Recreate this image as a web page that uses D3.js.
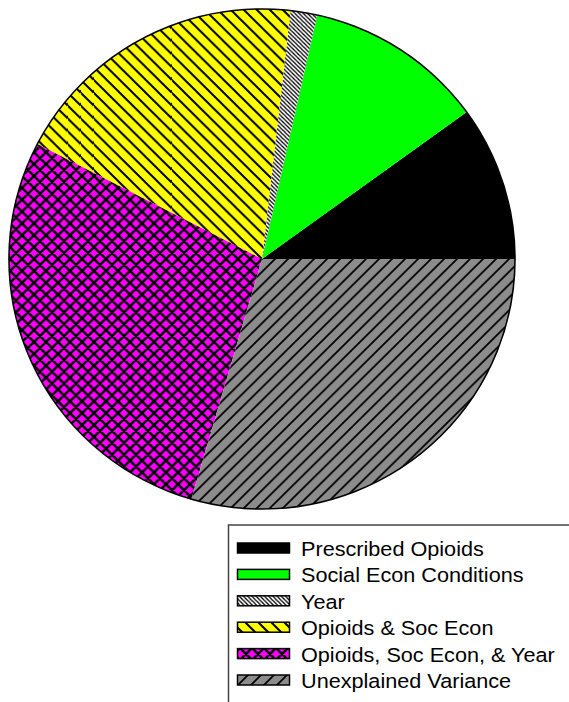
<!DOCTYPE html>
<html>
<head>
<meta charset="utf-8">
<script src="https://cdn.jsdelivr.net/npm/d3@7"></script>
<style>
  html, body { margin: 0; padding: 0; background: #fff; }
  svg { display: block; }
  text { font-family: "Liberation Sans", Arial, sans-serif; }
</style>
</head>
<body>
<svg id="chart" width="569" height="702"></svg>
<script>
// Share of variance explained, in percent
const categories = [
  "Prescribed Opioids",
  "Social Econ Conditions",
  "Year",
  "Opioids & Soc Econ",
  "Opioids, Soc Econ, & Year",
  "Unexplained Variance"
];
const shares = [10.0, 11.5, 1.7, 19.2, 28.1, 29.5];
const fills = ["#000000", "#00ff00", "#ffffff", "#ffff00", "#ff00ff", "#8c8c8c"];
const hatches = ["none", "none", "back-dense", "back", "cross", "forward"];

const svg = d3.select("#chart");
const defs = svg.append("defs");

// Hatch patterns drawn over each slice's base colour
function makePattern(id, bg, kind) {
  const specs = {
    "back-dense": { p: 4.2, w: 1.3 },
    "back": { p: 13, w: 2 },
    "forward": { p: 13, w: 1.8 },
    "cross": { p: 12, w: 2.5 }
  };
  const s = specs[kind];
  const pat = defs.append("pattern")
    .attr("id", id)
    .attr("patternUnits", "userSpaceOnUse")
    .attr("width", s.p).attr("height", s.p);
  pat.append("rect").attr("width", s.p).attr("height", s.p).attr("fill", bg);
  const p = s.p;
  const back = `M${-p},0 L${2 * p},${3 * p} M${-p},${-p} L${2 * p},${2 * p} M0,${-p} L${3 * p},${2 * p}`;
  const fwd = `M${-p},${p} L${p},${-p} M0,${2 * p} L${2 * p},0 M${-p},${2 * p} L${2 * p},${-p}`;
  let d = "";
  if (kind === "back" || kind === "back-dense") d = back;
  else if (kind === "forward") d = fwd;
  else d = back + " " + fwd;
  pat.append("path").attr("d", d)
    .attr("stroke", "#000").attr("stroke-width", s.w).attr("fill", "none");
}

const fillFor = categories.map((c, i) => {
  if (hatches[i] === "none") return fills[i];
  const id = "hatch" + i;
  makePattern(id, fills[i], hatches[i]);
  return `url(#${id})`;
});

// Pie: begins at 3 o'clock and runs counter-clockwise
const cx = 262, cy = 259, r = 253, ry = 250;
const pie = d3.pie().sort(null)
  .startAngle(Math.PI / 2)
  .endAngle(Math.PI / 2 - 2 * Math.PI);
const arc = d3.arc().innerRadius(0).outerRadius(r);

const g = svg.append("g")
  .attr("transform", `translate(${cx},${cy}) scale(1,${ry / r})`);

g.selectAll("path.slice")
  .data(pie(shares))
  .join("path")
  .attr("class", "slice")
  .attr("d", arc)
  .attr("fill", (d, i) => fillFor[i]);

g.append("circle")
  .attr("r", r)
  .attr("fill", "none")
  .attr("stroke", "#000")
  .attr("stroke-width", 1.6)
  .attr("vector-effect", "non-scaling-stroke");

// Legend
const legend = svg.append("g");
legend.append("rect")
  .attr("x", 228.5).attr("y", 525)
  .attr("width", 400).attr("height", 300)
  .attr("fill", "#fff")
  .attr("stroke", "#444").attr("stroke-width", 1.5);

const rowY = d3.scalePoint().domain(categories).range([556, 688]);

const rows = legend.selectAll("g.row")
  .data(categories)
  .join("g")
  .attr("class", "row");

rows.append("rect")
  .attr("x", 237.5).attr("y", d => rowY(d) - 13)
  .attr("width", 52).attr("height", 10)
  .attr("fill", (d, i) => fillFor[i])
  .attr("stroke", "#000").attr("stroke-width", 1.5);

rows.append("text")
  .attr("transform", d => `translate(301,${rowY(d)}) scale(1.11,1)`)
  .attr("font-size", 19.5)
  .attr("fill", "#000")
  .text(d => d);
</script>
</body>
</html>
